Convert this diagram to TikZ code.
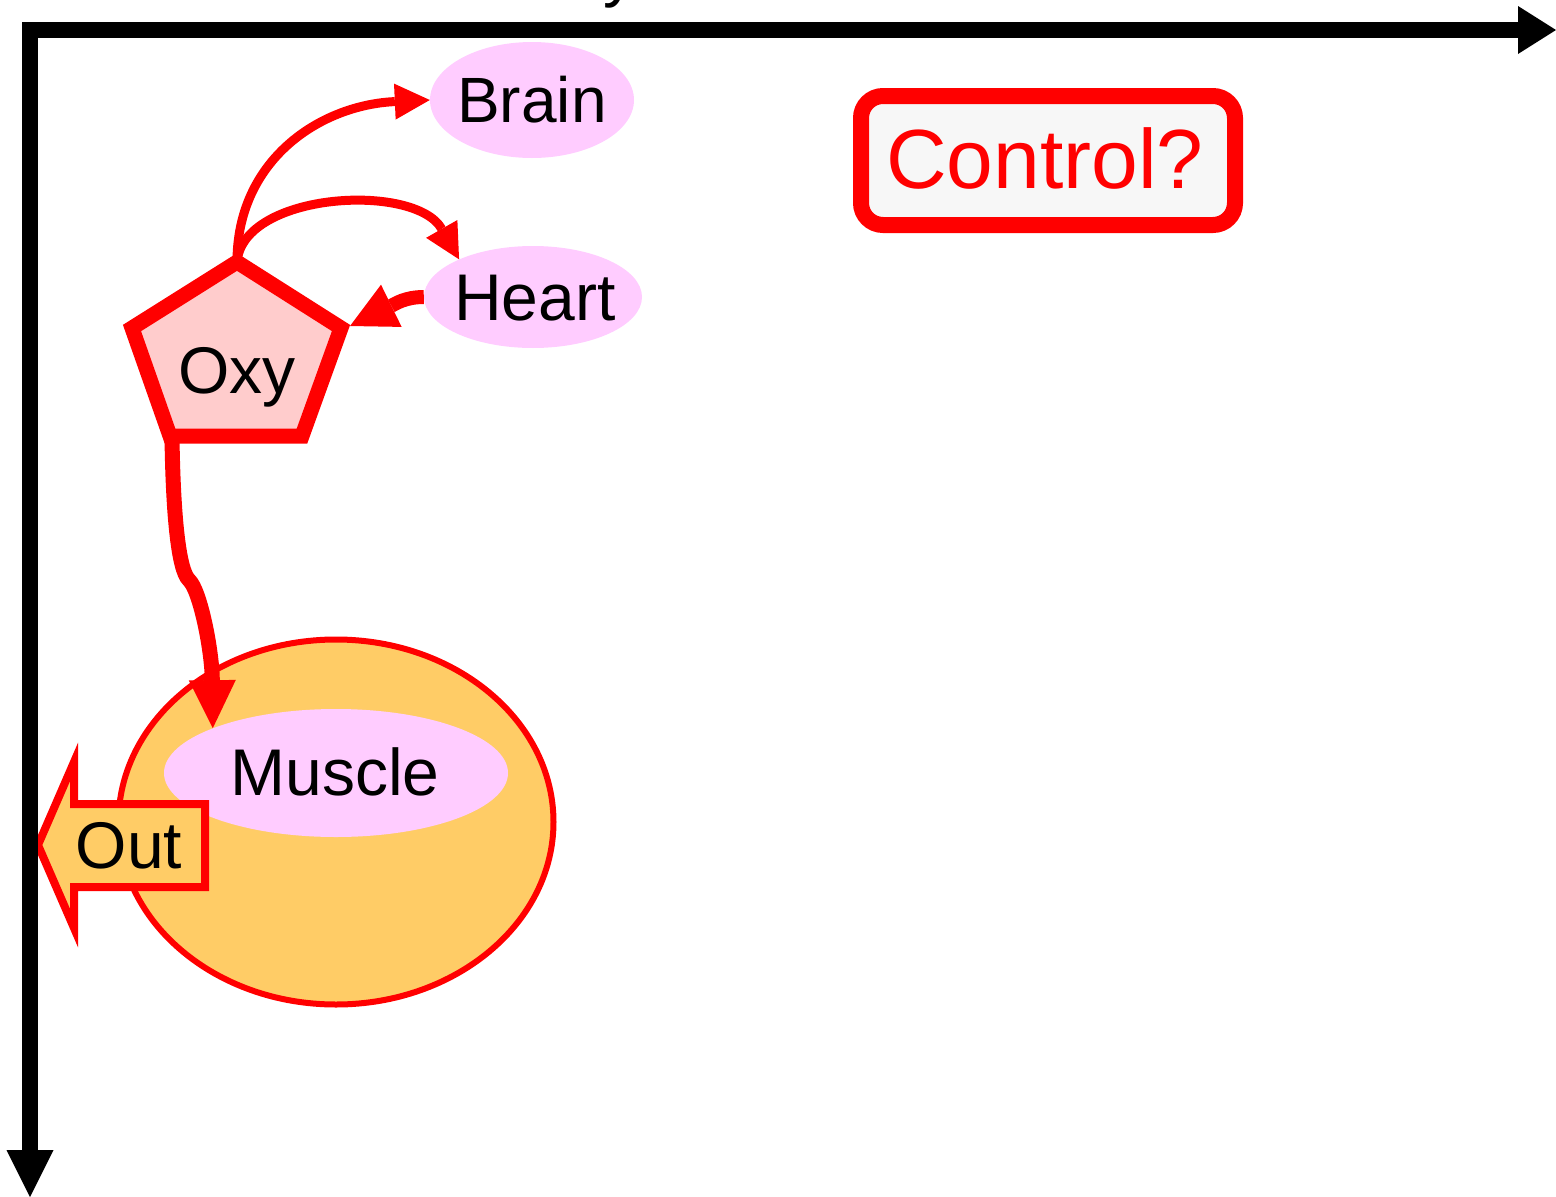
\documentclass[tikz,border=0pt]{standalone}
\usepackage{fontspec}
\setmainfont{Liberation Sans}
\usetikzlibrary{arrows.meta,shapes.geometric}
\definecolor{pinkfill}{HTML}{FFCCFF}
\definecolor{oxyfill}{HTML}{FFCCCC}
\definecolor{musclefill}{HTML}{FFCC66}
\definecolor{ctrlfill}{HTML}{F7F7F7}
\begin{document}
\begin{tikzpicture}[x=1pt,y=-1pt,
  blob/.style={ellipse, fill=pinkfill, inner sep=0pt},
  lbl/.style={anchor=base, inner sep=0pt, font=\fontsize{66}{70}\selectfont},
  conn/.style={draw=red, line width=9pt, -{Triangle[length=35pt,width=36pt,line width=0pt]}},
  shapeline/.style={draw=red, line join=miter}
]
\useasboundingbox (0,0) rectangle (1556,1197);

% muscle
\node[ellipse, draw=red, line width=6pt, fill=musclefill, minimum width=435pt, minimum height=365pt, inner sep=0pt] (muscle) at (336,822) {};
\node[blob, minimum width=344pt, minimum height=128pt] (muscin) at (336,773) {};
\node[lbl] (musclelbl) at (335,795) {Muscle};

% out arrow
\coordinate (outbr) at (205,887);
\filldraw[shapeline, fill=musclefill, line width=8pt] (205,804) -- (74,804) -- (74,762) -- (38,845) -- (74,928) -- (74,887) -- (outbr) -- cycle;
\node[lbl] (outlbl) at (129,868) {Out};

% oxy pentagon
\coordinate (otop) at (237,262);
\coordinate (oright) at (341,328);
\coordinate (obr) at (302,436);
\coordinate (obl) at (170,436);
\coordinate (oleft) at (132,328);
\coordinate (oxyR) at (350,326);
\coordinate (oxyB) at (172,437);
\filldraw[shapeline, fill=oxyfill, line width=15pt] (otop) -- (oright) -- (obr) -- (obl) -- (oleft) -- cycle;
\node[lbl] (oxylbl) at (237,393) {Oxy};

% brain, heart
\node[blob, minimum width=204pt, minimum height=116pt] (brain) at (532,100) {};
\node[lbl, font=\fontsize{64}{68}\selectfont] (brainlbl) at (532,122) {Brain};
\node[blob, minimum width=218pt, minimum height=102pt] (heart) at (533,297) {};
\node[lbl] (heartlbl) at (535,320) {Heart};

% control
\node[draw=red, line width=16pt, fill=ctrlfill, rounded corners=22pt, minimum width=374pt, minimum height=129pt, inner sep=0pt] (ctrl) at (1048,160.5) {};
\node[anchor=base, inner sep=0pt, text=red, font=\fontsize{84}{88}\selectfont] (ctrllbl) at (1045,188) {Control?};

% connectors
\draw[conn] (otop) .. controls (237,160) and (320,105) .. (brain.west);
\draw[conn] (otop) .. controls (243,192) and (415,182) .. (heart.153);
\draw[conn, line width=14pt, -{Triangle[length=46pt,width=47pt,line width=0pt]}] (heart.west) .. controls (405,297) and (395,304) .. (oxyR);
\draw[conn, line width=15pt, -{Triangle[length=48pt,width=47pt,line width=0pt]}] (oxyB) .. controls (173,510) and (178,570) .. (189,580) .. controls (200,590) and (212,650) .. (muscin.160);

% partially visible label at top
\node[anchor=base west, inner sep=0pt, font=\fontsize{66}{70}\selectfont] (ylbl) at (603,-6) {y};

% axes
\coordinate (axright) at (1556,30);
\coordinate (origin) at (30,30);
\coordinate (axbottom) at (30,1197);
\draw[line width=16pt, line join=miter, {Triangle[length=38pt,width=48pt,line width=0pt]}-{Triangle[length=47pt,width=47pt,line width=0pt]}] (axright) -- (origin) -- (axbottom);
\end{tikzpicture}
\end{document}
